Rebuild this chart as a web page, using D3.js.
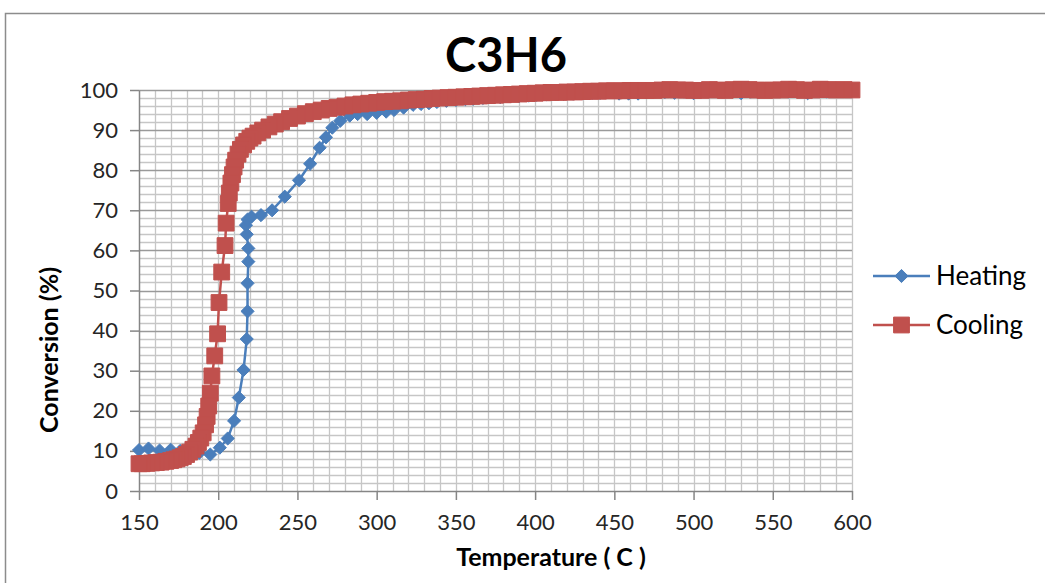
<!DOCTYPE html>
<html>
<head>
<meta charset="utf-8">
<script src="https://cdn.jsdelivr.net/npm/d3@7/dist/d3.min.js"></script>
<style>
  html, body { margin: 0; padding: 0; background: #fff; }
  svg { display: block; }
  text { font-family: Lato, "Open Sans", sans-serif; }
</style>
</head>
<body>
<svg id="chart" width="1045" height="583"></svg>
<script>
// Heating run: temperature (C) and conversion (%)
const heatingTemp = [150,156,163,170,176,182,188,195,201,206,210,213,216,218,218.5,218.5,219,219,218,217.5,218.5,221,227,234,242,251,258,264,268,272,277,283,288,294,300,306,311,317,323,328,333,338,344,350,356,361,367,372,378,384,390,396,401,407,413,418,424,430,436,441,447,453,459,465,470,476,482,488,494,500,506,512,518,524,530,536,542,548,554,560,566,572,578,584,590,596,600];
const heatingConv = [10.2,10.6,10.1,10.3,10.0,9.8,9.5,9.1,10.8,13.1,17.5,23.3,30.2,37.9,44.8,51.8,57.2,60.5,64.0,66.3,67.7,68.4,68.8,70.0,73.4,77.5,81.6,85.6,88.2,90.6,92.3,93.6,94.0,94.0,94.3,94.6,95.0,95.6,96.3,96.5,96.7,97.0,97.3,97.5,97.7,97.8,98.0,98.2,98.2,98.4,98.5,98.6,98.8,98.9,99.0,99.0,99.1,99.2,99.3,99.3,99.4,99.1,99.1,99.1,99.4,99.6,99.5,99.3,99.6,99.2,100.3,99.8,99.6,99.7,99.2,99.6,99.8,99.8,100.0,99.6,99.7,99.2,100.4,99.6,99.8,99.7,100.0];

// Cooling run, listed from the hot end downwards
const coolingTemp = [600,595,590,585,580,575,570,565,560,555,550,545,540,535,530,525,520,515,510,505,500,495,490,485,480,475,470,465,460,455,450,445,440,435,430,425,420,415,410,405,400,395,390,385,380,375,370,365,360,355,350,345,340,335,330,325,320,315,310,305,300,295,290,285,280,275,270,265,260,255,250,245,240,236,232,228,225,222,220,218,216,214,212.5,211,210,209,208,207,206.3,205,204.3,202.2,200.5,199.6,197.8,196,195,194,193,192,190.5,189,187.5,186,184,182,180,178,176,174,172,170,167,164,161,158,155,152,150];
const coolingConv = [100.0,100.1,100.0,100.1,100.2,100.0,99.9,100.1,100.2,100.0,100.0,99.9,100.0,100.1,100.2,100.1,99.9,100.0,100.1,99.9,99.9,100.0,100.0,100.1,100.0,99.9,99.9,99.9,99.9,99.8,99.8,99.8,99.7,99.7,99.6,99.5,99.5,99.4,99.4,99.3,99.2,99.1,99.0,98.9,98.8,98.7,98.6,98.5,98.4,98.3,98.2,98.1,98.0,97.9,97.7,97.6,97.5,97.3,97.2,97.1,96.9,96.7,96.5,96.3,96.0,95.7,95.4,95.0,94.6,94.1,93.5,92.9,92.1,91.5,90.8,90.0,89.3,88.5,88.0,87.2,86.3,85.2,84.0,82.5,80.8,78.9,76.8,74.3,71.7,66.8,61.2,54.6,47.0,39.2,33.7,28.7,24.4,21.2,18.6,16.5,14.5,13.2,12.1,11.2,10.4,9.7,9.1,8.6,8.3,8.0,7.8,7.6,7.4,7.2,7.1,7.0,6.9,6.8,6.8];

// Axis ticks
const xTicks = [150,200,250,300,350,400,450,500,550,600];
const yTicks = [0,10,20,30,40,50,60,70,80,90,100];
const xMinorGrid = d3.range(160, 601, 10);
const yMinorGrid = d3.range(2, 100, 2);

const seriesNames = ["Heating", "Cooling"];
const blue = "#4a7ebb", red = "#c0504d";

const svg = d3.select("#chart");

// Outer chart frame
svg.append("path")
  .attr("d", "M5.5,583 V13.5 H1045")
  .attr("fill", "none").attr("stroke", "#8c8c8c").attr("stroke-width", 1.5);

const x = d3.scaleLinear().domain([150, 600]).range([139, 852]);
const y = d3.scaleLinear().domain([0, 100]).range([491, 90]);

// Grid
const grid = svg.append("g");
grid.selectAll(".vg").data(xMinorGrid).join("line")
  .attr("x1", d => Math.round(x(d)) + 0.5).attr("x2", d => Math.round(x(d)) + 0.5)
  .attr("y1", y(0)).attr("y2", y(100))
  .attr("stroke", "#c6c6c6").attr("stroke-width", 1.3);
grid.selectAll(".hg").data(yMinorGrid.filter(d => d % 10 !== 0)).join("line")
  .attr("x1", x(150)).attr("x2", x(600))
  .attr("y1", d => Math.round(y(d)) + 0.5).attr("y2", d => Math.round(y(d)) + 0.5)
  .attr("stroke", "#c6c6c6").attr("stroke-width", 1.3);
grid.selectAll(".hm").data(yTicks.filter(d => d > 0)).join("line")
  .attr("x1", x(150)).attr("x2", x(600))
  .attr("y1", d => Math.round(y(d)) + 0.5).attr("y2", d => Math.round(y(d)) + 0.5)
  .attr("stroke", "#9a9a9a").attr("stroke-width", 1.4);

// Axes
const xAxis = svg.append("g")
  .attr("transform", `translate(0,${y(0)})`)
  .call(d3.axisBottom(x).tickValues(xTicks).tickSize(9).tickPadding(14).tickSizeOuter(0));
const yAxis = svg.append("g")
  .attr("transform", `translate(${x(150)},0)`)
  .call(d3.axisLeft(y).tickValues(yTicks).tickSize(9).tickPadding(12).tickSizeOuter(0));
[xAxis, yAxis].forEach(g => {
  g.select(".domain").attr("stroke", "#868686").attr("stroke-width", 1.5);
  g.selectAll(".tick line").attr("stroke", "#868686").attr("stroke-width", 1.5);
  g.selectAll(".tick text").attr("fill", "#262626")
    .style("font-family", "Lato, sans-serif").style("font-size", "22px");
});

// Series
const line = d3.line().x(d => x(d[0])).y(d => y(d[1]));
const heating = heatingTemp.map((t, i) => [t, heatingConv[i]]);
const cooling = coolingTemp.map((t, i) => [t, coolingConv[i]]);

const diamond = d3.symbol().type(d3.symbolDiamond2).size(110);
const square = d3.symbol().type(d3.symbolSquare).size(250);

svg.append("path").datum(heating)
  .attr("d", line).attr("fill", "none").attr("stroke", blue).attr("stroke-width", 2.5);
svg.append("g").selectAll("path").data(heating).join("path")
  .attr("transform", d => `translate(${x(d[0])},${y(d[1])})`)
  .attr("d", diamond).attr("fill", blue).attr("stroke", blue).attr("stroke-width", 1);

svg.append("path").datum(cooling)
  .attr("d", line).attr("fill", "none").attr("stroke", red).attr("stroke-width", 2.5);
svg.append("g").selectAll("path").data(cooling).join("path")
  .attr("transform", d => `translate(${x(d[0])},${y(d[1])})`)
  .attr("d", square).attr("fill", red).attr("stroke", red).attr("stroke-width", 1);

// Titles
svg.append("text").attr("x", 506).attr("y", 72).attr("text-anchor", "middle")
  .style("font-size", "47px").style("font-weight", "bold").attr("fill", "#000")
  .text("C3H6");
svg.append("text").attr("x", 551).attr("y", 566).attr("text-anchor", "middle")
  .style("font-size", "25px").style("font-weight", "bold").attr("fill", "#000")
  .text("Temperature ( C )");
svg.append("text").attr("transform", "translate(58,350) rotate(-90)").attr("text-anchor", "middle")
  .style("font-size", "25px").style("font-weight", "bold").attr("fill", "#000")
  .text("Conversion (%)");

// Legend
const legend = svg.append("g");
const legendRows = [
  { name: seriesNames[0], color: blue, sym: d3.symbol().type(d3.symbolDiamond2).size(110), y: 276 },
  { name: seriesNames[1], color: red, sym: d3.symbol().type(d3.symbolSquare).size(250), y: 325 }
];
legendRows.forEach(r => {
  legend.append("line").attr("x1", 873).attr("x2", 930).attr("y1", r.y).attr("y2", r.y)
    .attr("stroke", r.color).attr("stroke-width", 2.5);
  legend.append("path").attr("transform", `translate(901.5,${r.y})`).attr("d", r.sym)
    .attr("fill", r.color).attr("stroke", r.color);
  legend.append("text").attr("x", 936).attr("y", r.y + 9)
    .style("font-size", "26px").attr("fill", "#000").text(r.name);
});
</script>
</body>
</html>
